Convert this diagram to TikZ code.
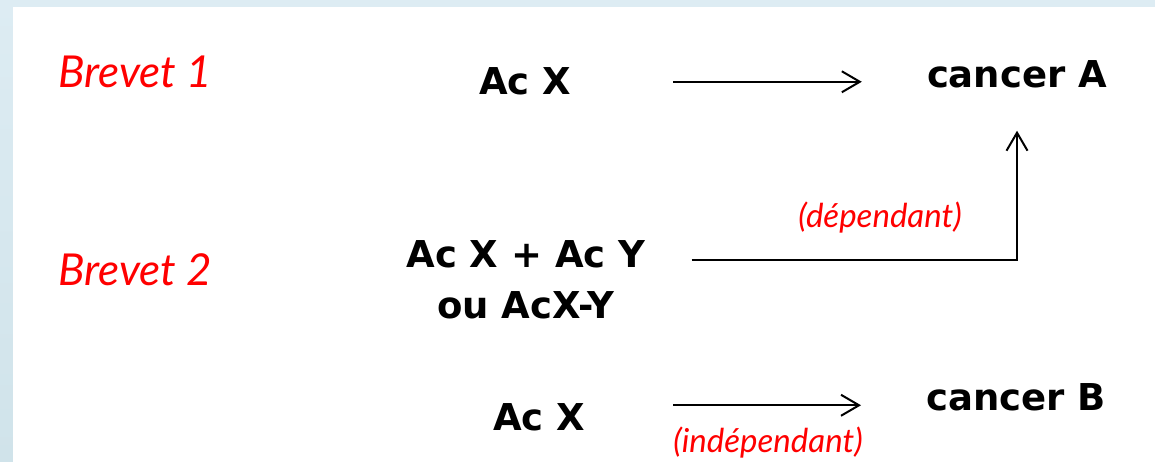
\documentclass[tikz,border=0pt]{standalone}
\usepackage{fontspec}
\setmainfont{Lato}
\newfontfamily\termfont{DejaVu Sans}
\usetikzlibrary{
    arrows.meta,
    positioning
}
\definecolor{bgtop}{RGB}{221,236,243}
\definecolor{bgbottom}{RGB}{208,227,234}
\definecolor{brevetred}{RGB}{255,0,0}

\begin{document}
\begin{tikzpicture}[x=1pt, y=-1pt,
            brevet_label/.style={font=\fontsize{44}{50}\selectfont\itshape, text=brevetred, inner sep=0pt, anchor=base west},
            term_node/.style={font=\fontsize{37}{51}\selectfont\termfont\bfseries, inner sep=0pt, anchor=base, align=center},
            link_label/.style={font=\fontsize{33}{38}\selectfont\itshape, text=brevetred, inner sep=0pt, anchor=base},
            main_flow_arrow/.style={-{Straight Barb[length=18pt, width=21pt]}, line width=2pt, black}
        ]

        % slide background
        \fill[bgtop] (0,0) rectangle (1155,462);
        \shade[top color=bgtop, bottom color=bgbottom] (0,0) rectangle (13,462);
        \fill[white] (13,7) rectangle (1155,462);
        \useasboundingbox (0,0) rectangle (1155,462);

        \node[brevet_label] (brevet_one) at (58,88) {Brevet 1};
        \node[brevet_label] (brevet_two) at (58,285) {Brevet 2};

        \node[term_node] (ac_x_top) at (525,95) {Ac X};
        \node[term_node] (cancer_a) at (1017,88) {cancer A};
        \node[term_node] (combo) at (526,318) {Ac X + Ac Y\\ou AcX-Y};
        \node[term_node] (ac_x_low) at (539,430) {Ac X};
        \node[term_node] (cancer_b) at (1016,410) {cancer B};

        \node[link_label] (dep_label) at (880,228) {(dépendant)};
        \node[link_label] (indep_label) at (768,452) {(indépendant)};

        \coordinate (dep_start) at ([xshift=46pt, yshift=19pt]combo.east);
        \coordinate (low_start) at ([xshift=88pt, yshift=11.5pt]ac_x_low.east);

        \draw[main_flow_arrow, shorten <=102pt, shorten >=65pt] (ac_x_top.east) -- (ac_x_top.east -| cancer_a.west);
        \draw[main_flow_arrow, shorten >=42pt] (dep_start) -| (cancer_a.south);
        \draw[main_flow_arrow, shorten >=65pt] (low_start) -- (low_start -| cancer_b.west);

        \end{tikzpicture}
\end{document}
